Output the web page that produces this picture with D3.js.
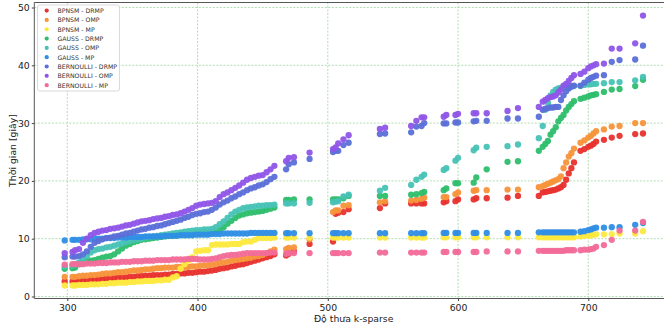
<!DOCTYPE html>
<html><head><meta charset="utf-8">
<script src="https://cdn.jsdelivr.net/npm/d3@7"></script>
<style>body{margin:0;background:#fff} text{font-family:"DejaVu Sans",sans-serif}</style>
</head><body><svg id="c" width="664" height="328"></svg>
<script>
// ---- data ----
const kValues = [298,304,306,309,312,315,318,321,324,327,330,333,336,339,342,345,348,351,354,357,360,363,366,369,372,375,378,381,384,387,390,393,396,399,402,405,408,411,414,417,420,423,426,429,432,435,438,441,444,447,450,453,456,459,
 468,470,474,486,504,506,508,512,516,540,544,564,568,572,574,589,591,598,600,612,614,622,638,646,
 662,665,667,669,671,673,675,677,679,681,683,685,687,689,694,697,700,702,704,706,712,718,724,736,742];

const bpnsmDrmp = [2.6,2.6,2.7,2.7,2.8,2.8,2.9,2.9,3.0,3.0,3.1,3.1,3.2,3.2,3.3,3.3,3.4,3.4,3.5,3.5,3.6,3.6,3.7,3.7,3.7,3.8,3.8,3.9,3.9,4.0,4.0,4.1,4.1,4.2,4.3,4.3,4.4,4.5,4.6,4.8,4.9,5.0,5.2,5.3,5.5,5.6,5.8,6.0,6.2,6.4,6.6,6.8,7.0,7.3,
 7.1,7.4,7.8,9.1,9.5,14.3,14.5,14.6,15.1,15.3,16.1,16.1,16.1,16.1,16.1,16.3,16.5,16.5,16.8,16.8,17.0,17.0,17.1,17.4,
 17.4,18.0,18.1,18.2,18.3,18.4,18.5,18.7,18.9,19.3,20.2,21.3,22.2,23.2,25.2,25.5,25.9,26.1,26.4,26.8,27.1,27.5,27.8,28.1,28.2];

const bpnsmOmp = [3.4,3.4,3.4,3.5,3.6,3.6,3.7,3.7,3.8,3.9,4.0,4.0,4.1,4.2,4.2,4.3,4.4,4.5,4.5,4.6,4.7,4.7,4.8,4.9,4.9,5.0,5.0,5.0,5.1,5.1,5.1,5.1,5.2,5.2,5.3,5.4,5.4,5.5,5.6,5.8,5.9,6.0,6.2,6.3,6.4,6.5,6.6,6.7,6.9,7.0,7.2,7.5,7.8,8.1,
 8.2,8.4,8.5,9.9,14.6,14.9,14.9,15.7,15.8,16.3,16.5,16.6,16.7,16.9,17.1,17.2,17.2,17.7,18.0,18.3,18.4,18.4,18.5,18.5,
 18.9,19.1,19.3,19.5,19.7,19.9,20.1,20.3,20.8,22.2,23.2,24.2,24.8,25.6,26.6,27.0,27.5,27.8,28.2,28.6,28.9,29.4,29.5,30.0,30.0];

const bpnsmMp = [1.9,1.9,1.9,2.0,2.0,2.0,2.1,2.1,2.1,2.2,2.2,2.3,2.3,2.4,2.4,2.4,2.5,2.5,2.6,2.6,2.7,2.7,2.7,2.8,2.8,2.9,2.9,3.3,3.5,4.8,5.6,6.2,6.8,7.8,7.9,8.0,8.0,8.9,9.0,9.0,9.0,9.0,9.1,9.1,9.1,9.4,9.5,9.5,9.8,10.1,10.1,10.1,10.1,10.2,
 10.2,10.2,10.2,10.2,10.2,10.2,10.2,10.2,10.2,10.2,10.2,10.2,10.2,10.2,10.2,10.25,10.25,10.25,10.25,10.25,10.25,10.25,10.25,10.25,
 10.25,10.25,10.25,10.25,10.25,10.25,10.25,10.25,10.25,10.25,10.25,10.25,10.25,10.25,10.4,10.5,10.5,10.6,10.7,10.75,10.75,10.8,10.9,10.9,11.3];

const gaussDrmp = [4.8,4.9,5.0,5.6,5.9,6.1,6.2,6.3,6.5,6.7,6.9,7.0,7.3,7.8,8.3,8.8,9.1,9.4,9.6,9.8,9.9,10.0,10.1,10.2,10.3,10.4,10.5,10.5,10.6,10.7,10.7,10.8,10.8,10.9,10.9,11.0,11.1,11.1,11.2,11.5,12.0,12.6,13.1,13.6,14.0,14.2,14.4,14.5,14.6,14.7,14.8,15.0,15.2,15.4,
 16.7,16.7,16.8,16.8,16.8,16.8,16.8,17.0,17.4,17.4,17.4,17.6,17.7,17.9,18.1,18.4,18.7,19.6,19.6,19.7,20.6,22.0,23.3,23.4,
 25.2,25.9,26.4,26.9,28.0,28.6,29.3,30.3,30.9,31.4,32.2,32.8,33.3,33.8,34.2,34.4,34.6,34.8,34.9,35.0,35.4,35.8,35.9,36.4,37.5];

const gaussOmp = [5.2,5.4,5.5,5.9,6.4,7.0,7.6,8.0,8.2,8.3,8.5,8.6,8.8,9.0,9.2,9.4,9.6,9.8,9.9,10.0,10.2,10.3,10.4,10.5,10.6,10.7,10.8,10.9,11.0,11.1,11.2,11.3,11.4,11.5,11.5,11.6,11.6,11.7,12.0,12.5,13.0,13.6,14.2,14.7,15.0,15.3,15.4,15.5,15.6,15.7,15.7,15.8,15.8,15.9,
 16.1,16.1,16.1,16.2,16.3,16.4,16.5,17.3,17.6,18.3,18.8,19.3,20.2,20.7,21.1,21.9,22.2,23.5,24.0,25.3,25.75,25.9,26.0,26.3,
 27.4,29.5,32.3,33.5,34.8,35.4,35.8,36.0,36.1,36.2,36.3,36.3,36.4,36.4,36.4,36.6,36.7,36.7,36.8,36.8,36.9,37.1,37.1,37.4,38.0];

const gaussMp = [9.7,9.8,9.8,9.8,9.9,9.9,9.9,10.0,10.0,10.0,10.1,10.1,10.1,10.2,10.2,10.2,10.3,10.3,10.3,10.3,10.4,10.4,10.4,10.4,10.4,10.5,10.5,10.5,10.5,10.6,10.6,10.6,10.6,10.7,10.7,10.7,10.7,10.8,10.8,10.8,10.9,10.9,10.9,10.9,10.9,10.9,10.9,11.0,11.0,11.0,11.0,11.0,11.0,11.0,
 10.95,10.95,10.95,10.95,10.95,10.95,10.95,10.95,10.95,10.95,10.95,10.95,10.95,10.95,10.95,11.0,11.0,11.0,11.0,11.0,11.0,11.0,11.0,11.0,
 11.1,11.1,11.1,11.1,11.1,11.1,11.1,11.1,11.1,11.1,11.1,11.1,11.1,11.1,11.2,11.3,11.5,11.6,11.8,11.9,11.9,12.0,12.0,12.4,12.7];

const bernoulliDrmp = [6.8,6.9,6.9,7.0,7.3,7.8,8.6,9.3,9.6,9.9,10.1,10.2,10.4,10.5,10.7,10.9,11.0,11.2,11.4,11.6,11.7,11.9,12.0,12.2,12.3,12.5,12.7,12.9,13.1,13.3,13.6,13.8,14.1,14.3,14.4,14.6,14.7,15.0,15.4,15.9,16.3,16.6,17.0,17.3,17.7,18.0,18.4,18.7,18.9,19.2,19.4,19.8,20.3,20.7,
 22.0,22.9,23.2,23.8,25.0,25.2,25.2,26.2,26.6,28.1,28.2,28.4,29.4,29.5,30.0,29.95,29.95,30.1,30.1,30.3,30.4,30.4,30.8,30.8,
 31.1,32.3,32.5,32.6,32.7,32.7,32.8,32.8,34.0,34.8,35.5,36.0,36.3,36.5,36.5,37.0,37.5,37.8,38.0,38.2,38.3,40.6,40.9,41.0,43.4];

const bernoulliOmp = [7.5,7.7,8.0,8.2,9.3,10.0,10.6,11.0,11.2,11.4,11.5,11.7,11.8,11.9,12.1,12.3,12.4,12.6,12.8,13.0,13.1,13.2,13.4,13.5,13.6,13.8,13.9,14.1,14.2,14.4,14.7,15.0,15.3,15.7,15.9,16.0,16.1,16.2,16.5,17.2,17.7,18.0,18.4,18.8,19.2,19.7,20.2,20.5,20.7,20.9,21.0,21.5,22.0,22.6,
 23.4,24.0,24.1,24.9,25.5,25.8,26.5,27.2,27.9,29.0,29.2,29.5,30.4,31.0,31.0,31.1,31.4,31.4,31.6,31.7,31.7,31.7,32.1,32.6,
 32.8,33.7,34.0,34.3,34.5,34.6,34.8,35.3,35.8,36.5,36.8,37.3,37.8,38.3,38.5,38.9,39.5,39.8,40.0,40.2,40.3,42.9,42.9,43.8,48.6];

const bernoulliMp = [5.5,5.6,5.6,5.6,5.6,5.7,5.7,5.7,5.8,5.8,5.8,5.9,5.9,5.9,6.0,6.0,6.0,6.1,6.1,6.1,6.2,6.2,6.2,6.3,6.3,6.3,6.3,6.4,6.4,6.4,6.4,6.5,6.5,6.5,6.4,6.4,6.4,6.5,6.6,6.8,7.0,7.1,7.2,7.2,7.3,7.4,7.5,7.5,7.5,7.5,7.5,7.5,7.6,7.6,
 7.4,7.5,7.5,7.5,7.5,7.5,7.5,7.5,7.5,7.6,7.6,7.6,7.6,7.6,7.6,7.7,7.7,7.7,7.7,7.7,7.7,7.8,7.8,7.8,
 7.9,7.9,7.9,7.9,7.9,7.9,7.9,7.9,7.9,7.9,8.0,8.0,8.0,8.0,8.0,8.1,8.1,8.2,8.3,8.6,8.9,9.8,11.4,11.4,12.9];

const seriesNames = ["BPNSM - DRMP","BPNSM - OMP","BPNSM - MP","GAUSS - DRMP","GAUSS - OMP","GAUSS - MP","BERNOULLI - DRMP","BERNOULLI - OMP","BERNOULLI - MP"];
const seriesValues = [bpnsmDrmp,bpnsmOmp,bpnsmMp,gaussDrmp,gaussOmp,gaussMp,bernoulliDrmp,bernoulliOmp,bernoulliMp];
const seriesColors = ["#e8322e","#f7943a","#fde93e","#2dbe6c","#47c2b5","#2f8ee5","#5b6fd8","#8f55e8","#f26b99"];
const xTicks = [300,400,500,600,700];
const yTicks = [0,10,20,30,40,50];
const xLabel = "Độ thưa k-sparse";
const yLabel = "Thời gian [giây]";

// ---- layout ----
const plot = {left:34.3, right:673, top:2.5, bottom:298.5};
const x = d3.scaleLinear().domain([300,700]).range([67.3,588.3]);
const y = d3.scaleLinear().domain([0,50]).range([296.5,7.5]);
const svg = d3.select("#c");

svg.append("defs").append("clipPath").attr("id","clip").append("rect")
  .attr("x",plot.left).attr("y",plot.top).attr("width",plot.right-plot.left).attr("height",plot.bottom-plot.top);

// grid
const grid = svg.append("g");
grid.selectAll(".gx").data(xTicks).join("line")
  .attr("x1",d=>x(d)).attr("x2",d=>x(d)).attr("y1",plot.top).attr("y2",plot.bottom)
  .attr("stroke","#9fd49f").attr("stroke-width",0.8).attr("stroke-dasharray","2,1.5");
grid.selectAll(".gy").data(yTicks).join("line")
  .attr("y1",d=>y(d)).attr("y2",d=>y(d)).attr("x1",plot.left).attr("x2",plot.right)
  .attr("stroke","#9fd49f").attr("stroke-width",0.8).attr("stroke-dasharray","2,1.5");

// points
const pts = svg.append("g").attr("clip-path","url(#clip)");
seriesValues.forEach((vals,si)=>{
  pts.append("g").selectAll("circle").data(vals.map((v,i)=>[kValues[i],v])).join("circle")
    .attr("cx",d=>x(d[0])).attr("cy",d=>y(d[1])).attr("r",3.15)
    .attr("fill",seriesColors[si]).attr("fill-opacity",0.95);
});

// axes
const xAxis = d3.axisBottom(x).tickValues(xTicks).tickSize(2.5).tickPadding(3);
const yAxis = d3.axisLeft(y).tickValues(yTicks).tickSize(2.5).tickPadding(2);
const gx = svg.append("g").attr("transform",`translate(0,${plot.bottom})`).call(xAxis);
const gy = svg.append("g").attr("transform",`translate(${plot.left},0)`).call(yAxis);
[gx,gy].forEach(g=>{
  g.select(".domain").remove();
  g.selectAll("line").attr("stroke","#444");
  g.selectAll("text").attr("font-size",9.3).attr("fill","#222").attr("font-family","DejaVu Sans");
});
// spines
const sp = svg.append("g").attr("stroke","#555").attr("stroke-width",1).attr("fill","none");
sp.append("line").attr("x1",plot.left).attr("x2",plot.left).attr("y1",plot.top).attr("y2",plot.bottom);
sp.append("line").attr("x1",plot.left).attr("x2",plot.right).attr("y1",plot.bottom).attr("y2",plot.bottom);
sp.append("line").attr("x1",plot.left).attr("x2",plot.right).attr("y1",plot.top).attr("y2",plot.top);

// labels
svg.append("text").attr("x",(plot.left+plot.right)/2).attr("y",321.5).attr("text-anchor","middle")
  .attr("font-size",9.3).attr("fill","#222").text(xLabel);
svg.append("text").attr("transform",`translate(12,${(plot.top+plot.bottom)/2}) rotate(-90)`)
  .attr("text-anchor","middle").attr("dominant-baseline","central")
  .attr("font-size",9.3).attr("fill","#222").text(yLabel);

// legend
const lg = svg.append("g");
lg.append("rect").attr("x",37.5).attr("y",5).attr("width",82).attr("height",86).attr("rx",2)
  .attr("fill","#fff").attr("fill-opacity",0.85).attr("stroke","#d0d0d0").attr("stroke-width",0.8);
seriesNames.forEach((n,i)=>{
  const cy = 10.6 + i*9.32;
  lg.append("circle").attr("cx",46.7).attr("cy",cy).attr("r",2.1).attr("fill",seriesColors[i]);
  lg.append("text").attr("x",57.5).attr("y",cy).attr("dominant-baseline","central")
    .attr("font-size",6.2).attr("fill","#333").text(n);
});
</script></body></html>
